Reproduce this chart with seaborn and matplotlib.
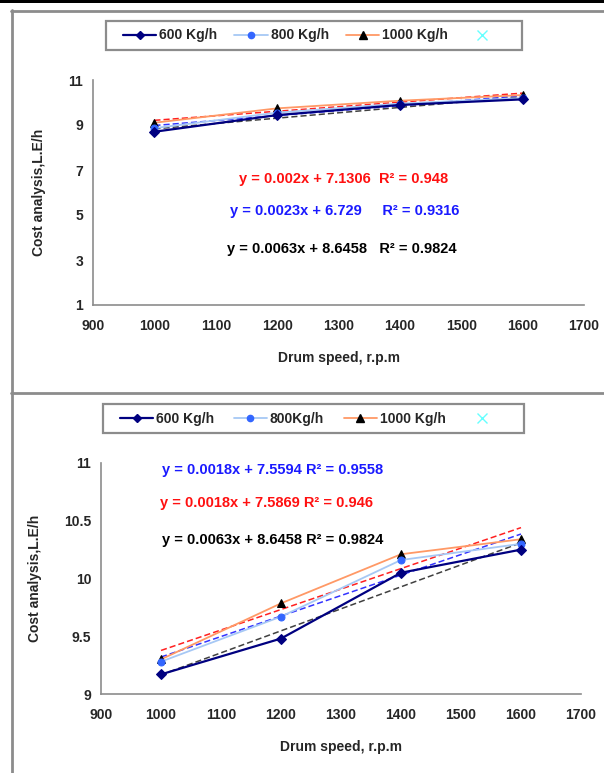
import numpy as np
import pandas as pd
import seaborn as sns
import matplotlib.pyplot as plt
from matplotlib.lines import Line2D
from matplotlib.patches import Rectangle
from matplotlib.ticker import FormatStrFormatter

# data
speed = [1000, 1200, 1400, 1600]

top_600 = [8.70, 9.44, 9.89, 10.14]
top_800 = [8.86, 9.55, 9.95, 10.20]
top_1000 = [9.10, 9.74, 10.08, 10.33]

bot_600 = [9.17, 9.48, 10.05, 10.25]
bot_800 = [9.28, 9.67, 10.16, 10.30]
bot_1000 = [9.30, 9.785, 10.21, 10.34]

top_eq = [
    "y = 0.002x + 7.1306  R² = 0.948",
    "y = 0.0023x + 6.729     R² = 0.9316",
    "y = 0.0063x + 8.6458   R² = 0.9824",
]
bot_eq = [
    "y = 0.0018x + 7.5594 R² = 0.9558",
    "y = 0.0018x + 7.5869 R² = 0.946",
    "y = 0.0063x + 8.6458 R² = 0.9824",
]
top_labels = ["600 Kg/h", "800 Kg/h", "1000 Kg/h"]
bot_labels = ["600 Kg/h", "800Kg/h", "1000 Kg/h"]

sns.set_style("white")
plt.rcParams["font.family"] = ["Liberation Sans", "DejaVu Sans"]
plt.rcParams["font.weight"] = "bold"

NAVY = "#000080"
LBLUE = "#a6c8f5"
MBLUE = "#3366ff"
ORANGE = "#ff9966"
W, H = 604, 773


def fx(px):
    return px / W


def fy(py):
    return 1 - py / H


def draw_panel(ax, s600, s800, s1000, eqs, eq_pos, eq_colors):
    # trend lines (dashed)
    for vals, c in [(s600, "#404040"), (s800, "#3333ff"), (s1000, "#ff2020")]:
        sns.regplot(x=speed, y=vals, ci=None, scatter=False, ax=ax,
                    line_kws=dict(color=c, ls=(0, (4, 2)), lw=1.1))
    sns.lineplot(x=speed, y=s1000, ax=ax, color=ORANGE, lw=1.3, marker="^",
                 markersize=6, markerfacecolor="black", markeredgecolor="black", zorder=4)
    sns.lineplot(x=speed, y=s800, ax=ax, color=LBLUE, lw=1.3, marker="o",
                 markersize=5, markerfacecolor=MBLUE, markeredgecolor=MBLUE, zorder=4)
    sns.lineplot(x=speed, y=s600, ax=ax, color=NAVY, lw=1.6, marker="D",
                 markersize=5, markerfacecolor=NAVY, markeredgecolor=NAVY, zorder=5)
    for txt, (x, y), c in zip(eqs, eq_pos, eq_colors):
        ax.text(x, y, txt, color=c, fontsize=10.5, fontweight="bold", va="center", ha="left")
    ax.set_xlim(900, 1700)
    ax.set_xticks(range(900, 1701, 100))
    ax.set_xlabel("Drum speed, r.p.m", fontsize=10, fontweight="bold", labelpad=13)
    ax.set_ylabel("Cost analysis,L.E/h", fontsize=10, fontweight="bold", labelpad=16)
    sns.despine(ax=ax)
    for sp in ["left", "bottom"]:
        ax.spines[sp].set_color("#8c8c8c")
        ax.spines[sp].set_linewidth(1.2)
    ax.tick_params(axis="x", direction="in", length=4, color="#8c8c8c", labelsize=10, pad=10)
    ax.tick_params(axis="y", direction="out", length=4, color="#8c8c8c", labelsize=10, pad=3)
    ax.yaxis.set_major_formatter(FormatStrFormatter("%g"))


def add_legend(fig, labels, box, content_x):
    handles = [
        Line2D([], [], color=NAVY, lw=1.6, marker="D", ms=4.5, label=labels[0]),
        Line2D([], [], color=LBLUE, lw=1.3, marker="o", ms=4.5, markerfacecolor=MBLUE,
               markeredgecolor=MBLUE, label=labels[1]),
        Line2D([], [], color=ORANGE, lw=1.3, marker="^", ms=5.5, markerfacecolor="black",
               markeredgecolor="black", label=labels[2]),
        Line2D([], [], ls="none", marker="x", ms=7, color="#66ffff", label=" "),
    ]
    x0, y0, x1, y1 = box
    # legend frame drawn separately, entries spread inside it
    fig.add_artist(Rectangle((fx(x0), fy(y1)), fx(x1) - fx(x0), fy(y0) - fy(y1),
                             transform=fig.transFigure, fill=False,
                             edgecolor="#8c8c8c", lw=1.6))
    c0, c1 = content_x
    fig.legend(handles=handles, loc="center", ncol=4, mode="expand",
               bbox_to_anchor=(fx(c0), fy(y1), fx(c1) - fx(c0), fy(y0) - fy(y1)),
               bbox_transform=fig.transFigure, frameon=False,
               borderaxespad=0, borderpad=0,
               handlelength=2.4, handletextpad=0.2, columnspacing=1.0,
               prop=dict(size=10, weight="bold"))


fig = plt.figure(figsize=(W / 100, H / 100), dpi=100)

# screenshot frame
fig.add_artist(Rectangle((0, fy(3)), 1, 1 - fy(3), transform=fig.transFigure,
                         color="black", lw=0))
for xs, ys in [([11, W], [10.5, 10.5]), ([11.5, 11.5], [10, H]), ([11, W], [393, 393])]:
    fig.add_artist(Line2D([fx(x) for x in xs], [fy(y) for y in ys],
                          transform=fig.transFigure, color="#8c8c8c", lw=2))

ax1 = fig.add_axes([fx(93), fy(305), fx(584) - fx(93), fy(80) - fy(305)])
draw_panel(ax1, top_600, top_800, top_1000, top_eq,
           [(1138, 6.6), (1124, 5.16), (1119, 3.5)], ["#ff1010", "#1a1aff", "black"])
ax1.set_ylim(1, 11)
ax1.set_yticks([1, 3, 5, 7, 9, 11])
add_legend(fig, top_labels, (106, 21, 522, 50), (123, 505))

ax2 = fig.add_axes([fx(101), fy(694), fx(581) - fx(101), fy(463) - fy(694)])
draw_panel(ax2, bot_600, bot_800, bot_1000, bot_eq,
           [(1002, 10.94), (998, 10.656), (1002, 10.33)], ["#1a1aff", "#ff1010", "black"])
ax2.set_ylim(9, 11)
ax2.set_yticks([9, 9.5, 10, 10.5, 11])
add_legend(fig, bot_labels, (103, 404, 524, 433), (120, 505))

fig.savefig("out.png", dpi=100)
